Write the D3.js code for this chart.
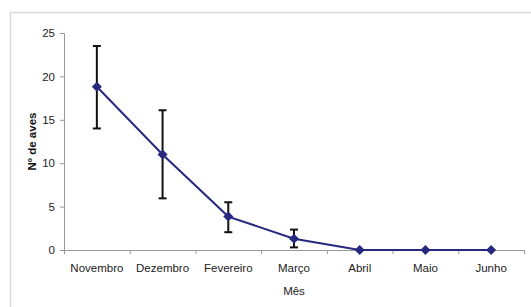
<!DOCTYPE html>
<html>
<head>
<meta charset="utf-8">
<script src="https://cdn.jsdelivr.net/npm/d3@7"></script>
<style>
  body { margin: 0; background: #fff; }
  text { font-family: "Liberation Sans", Arial, sans-serif; }
</style>
</head>
<body>
<div id="chart"></div>
<script>
// data
const months = ["Novembro", "Dezembro", "Fevereiro", "Março", "Abril", "Maio", "Junho"];
const birds = [18.8, 11.0, 3.85, 1.3, 0, 0, 0];
const errLow = [14.0, 5.95, 2.05, 0.3, 0, 0, 0];
const errHigh = [23.5, 16.1, 5.5, 2.35, 0, 0, 0];
const yTicks = [0, 5, 10, 15, 20, 25];

const W = 531, H = 307;
const margin = { top: 33, right: 7, bottom: 57, left: 64 },
  width = W - margin.left - margin.right,
  height = H - margin.top - margin.bottom;

const root = d3.select("#chart").append("svg")
  .attr("width", W)
  .attr("height", H);

// light frame (left and top edges visible)
root.append("path")
  .attr("d", "M10.5," + H + "V12.5H" + W)
  .attr("fill", "none")
  .attr("stroke", "#d9d9d9")
  .attr("stroke-width", 1.5);

const svg = root.append("g")
  .attr("transform", `translate(${margin.left},${margin.top})`);

const x = d3.scaleBand().domain(months).range([0, width]);
const y = d3.scaleLinear().domain([0, 25]).range([height, 0]);

// y axis
const yAxis = svg.append("g")
  .call(d3.axisLeft(y).tickValues(yTicks).tickSize(4).tickPadding(5));
yAxis.selectAll("path, line").attr("stroke", "#999");
yAxis.selectAll("text").attr("font-size", 11.5).attr("fill", "#222");

// x axis, ticks on the band edges
const xAxis = svg.append("g")
  .attr("transform", `translate(0,${height})`)
  .call(d3.axisBottom(x).tickSize(0).tickPadding(14));
xAxis.select(".domain").attr("stroke", "#999");
xAxis.selectAll("text").attr("font-size", 11.5).attr("fill", "#222");
xAxis.selectAll(".edge")
  .data(months.map((m, i) => i).concat([months.length]))
  .enter().append("line")
  .attr("class", "edge")
  .attr("x1", i => i * x.bandwidth() + 0.5)
  .attr("x2", i => i * x.bandwidth() + 0.5)
  .attr("y1", 0)
  .attr("y2", 4)
  .attr("stroke", "#999");

const cx = m => x(m) + x.bandwidth() / 2;

// error bars
const eb = svg.selectAll(".err")
  .data(months.map((m, i) => ({ m: m, lo: errLow[i], hi: errHigh[i] })).filter(d => d.hi > d.lo))
  .enter().append("g")
  .attr("class", "err")
  .attr("stroke", "#111")
  .attr("stroke-width", 2);
eb.append("line")
  .attr("x1", d => cx(d.m)).attr("x2", d => cx(d.m))
  .attr("y1", d => y(d.lo)).attr("y2", d => y(d.hi));
eb.append("line")
  .attr("x1", d => cx(d.m) - 4).attr("x2", d => cx(d.m) + 4)
  .attr("y1", d => y(d.lo)).attr("y2", d => y(d.lo));
eb.append("line")
  .attr("x1", d => cx(d.m) - 4).attr("x2", d => cx(d.m) + 4)
  .attr("y1", d => y(d.hi)).attr("y2", d => y(d.hi));

// line
svg.append("path")
  .datum(birds)
  .attr("fill", "none")
  .attr("stroke", "#27287f")
  .attr("stroke-width", 2)
  .attr("d", d3.line()
    .x((d, i) => cx(months[i]))
    .y(d => y(d)));

// diamond markers
svg.selectAll(".pt")
  .data(birds)
  .enter().append("path")
  .attr("class", "pt")
  .attr("d", d3.symbol().type(d3.symbolDiamond2).size(64))
  .attr("transform", (d, i) => `translate(${cx(months[i])},${y(d)})`)
  .attr("fill", "#27287f");

// axis titles
root.append("text")
  .attr("transform", `translate(36,${margin.top + height / 2}) rotate(-90)`)
  .attr("text-anchor", "middle")
  .attr("font-size", 11.5)
  .attr("font-weight", "bold")
  .attr("fill", "#111")
  .text("Nº de aves");

root.append("text")
  .attr("x", margin.left + width / 2)
  .attr("y", 295)
  .attr("text-anchor", "middle")
  .attr("font-size", 11.5)
  .attr("fill", "#222")
  .text("Mês");
</script>
</body>
</html>
